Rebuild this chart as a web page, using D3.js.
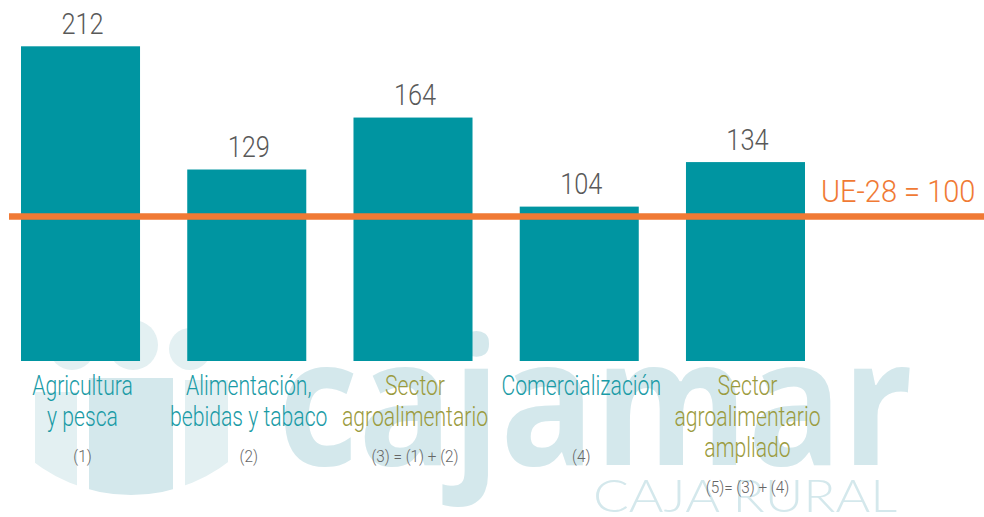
<!DOCTYPE html>
<html lang="es">
<head>
<meta charset="utf-8">
<title>Índice sector agroalimentario (UE-28 = 100)</title>
<script src="https://cdn.jsdelivr.net/npm/d3@7"></script>
<style>
	html, body { margin: 0; padding: 0; background: #fff; }
	svg { display: block; }
	text { font-family: Roboto, "Noto Sans", sans-serif; font-weight: 300; }
	.bar { fill: #0095a1; }
	.value { fill: #595959; font-size: 29.5px; }
	.cat { font-size: 27.5px; }
	.cat.simple { fill: #1a9ba6; }
	.cat.aggregate { fill: #9b9b3e; }
	.formula { fill: #666; font-size: 17px; }
	.ref-line { stroke: #f07a35; stroke-width: 6.5; }
	.ref-label { fill: #f07a35; font-size: 31.5px; }
	.wm { fill: #d4e8ec; }
	.wm-light { fill: #e3f0f2; }
</style>
</head>
<body>
<div id="chart"></div>
<script>
// data
var categories = [
	["Agricultura", "y pesca"],
	["Alimentación,", "bebidas y tabaco"],
	["Sector", "agroalimentario"],
	["Comercialización"],
	["Sector", "agroalimentario", "ampliado"]
];
var values = [212, 129, 164, 104, 134];
var formulas = ["(1)", "(2)", "(3) = (1) + (2)", "(4)", "(5)= (3) + (4)"];
var isAggregate = [false, false, true, false, true];
var reference = 100;
var referenceLabel = "UE-28 = 100";

var w = 984, h = 517;

var svg = d3.select("#chart").append("svg")
	.attr("width", w)
	.attr("height", h);

var x = d3.scaleBand()
	.domain(d3.range(values.length))
	.range([21, 805])
	.paddingInner(0.284)
	.paddingOuter(0);

var y = d3.scaleLinear()
	.domain([0, d3.max(values)])
	.range([361, 46.3]);

// squeeze text to mimic the condensed face of the original
function squeeze(sel, k) {
	sel.each(function() {
		var len = this.getComputedTextLength();
		d3.select(this).attr("textLength", len * k).attr("lengthAdjust", "spacingAndGlyphs");
	});
}

// watermark (logo behind the chart)
var wm = svg.append("g").attr("class", "watermark");
var clip = svg.append("defs").append("clipPath").attr("id", "bowl");
clip.append("circle").attr("cx", 131).attr("cy", 335).attr("r", 160);
var bowl = wm.append("g").attr("clip-path", "url(#bowl)");
bowl.append("rect").attr("class", "wm-light").attr("x", 35).attr("y", 392).attr("width", 42).attr("height", 120);
bowl.append("rect").attr("class", "wm").attr("x", 89).attr("y", 378).attr("width", 84).attr("height", 130);
bowl.append("rect").attr("class", "wm-light").attr("x", 185).attr("y", 380).attr("width", 43).attr("height", 130);
wm.append("circle").attr("class", "wm-light").attr("cx", 72).attr("cy", 347).attr("r", 23);
wm.append("circle").attr("class", "wm-light").attr("cx", 133).attr("cy", 345).attr("r", 25);
wm.append("circle").attr("class", "wm-light").attr("cx", 190).attr("cy", 349).attr("r", 21);
wm.append("text").attr("class", "wm")
	.attr("x", 278).attr("y", 465)
	.style("font-family", "'Open Sans', 'Noto Sans', sans-serif")
	.style("font-weight", 700)
	.style("font-size", "176px")
	.attr("textLength", 635).attr("lengthAdjust", "spacingAndGlyphs")
	.text("cajamar");
wm.append("text").attr("class", "wm")
	.attr("x", 593).attr("y", 512)
	.style("font-family", "Lato, Roboto, sans-serif")
	.style("font-weight", 300)
	.style("font-size", "45px")
	.attr("textLength", 304).attr("lengthAdjust", "spacingAndGlyphs")
	.text("CAJA RURAL");

// bars
svg.selectAll(".bar")
	.data(values)
	.enter()
	.append("rect")
	.attr("class", "bar")
	.attr("x", function(d, i) { return x(i); })
	.attr("y", function(d) { return y(d); })
	.attr("width", x.bandwidth())
	.attr("height", function(d) { return y(0) - y(d); });

// reference line
svg.append("line")
	.attr("class", "ref-line")
	.attr("x1", 9).attr("x2", w)
	.attr("y1", y(reference) + 4).attr("y2", y(reference) + 4);

svg.append("text")
	.attr("class", "ref-label")
	.attr("x", 821)
	.attr("y", y(reference) - 11)
	.text(referenceLabel)
	.call(squeeze, 0.92);

// value labels
svg.selectAll(".value")
	.data(values)
	.enter()
	.append("text")
	.attr("class", "value")
	.attr("text-anchor", "middle")
	.attr("x", function(d, i) { return x(i) + x.bandwidth() / 2 + 2; })
	.attr("y", function(d) { return y(d) - 12.5; })
	.text(function(d) { return d; })
	.call(squeeze, 0.86);

// category labels
var lineH = 30.8;
var cats = svg.selectAll(".catg")
	.data(categories)
	.enter()
	.append("g")
	.attr("class", "catg");

cats.selectAll("text")
	.data(function(d, i) { return d.map(function(s, j) { return {s: s, i: i, j: j}; }); })
	.enter()
	.append("text")
	.attr("class", function(d) { return "cat " + (isAggregate[d.i] ? "aggregate" : "simple"); })
	.attr("text-anchor", "middle")
	.attr("x", function(d) { return x(d.i) + x.bandwidth() / 2 + 2; })
	.attr("y", function(d) { return 395 + d.j * lineH; })
	.text(function(d) { return d.s; })
	.call(squeeze, 0.77);

svg.selectAll(".formula")
	.data(formulas)
	.enter()
	.append("text")
	.attr("class", "formula")
	.attr("text-anchor", "middle")
	.attr("x", function(d, i) { return x(i) + x.bandwidth() / 2 + 2; })
	.attr("y", function(d, i) { return 395 + (Math.max(categories[i].length, 2) - 1) * lineH + 36; })
	.text(function(d) { return d; })
	.call(squeeze, 0.9);
</script>
</body>
</html>
